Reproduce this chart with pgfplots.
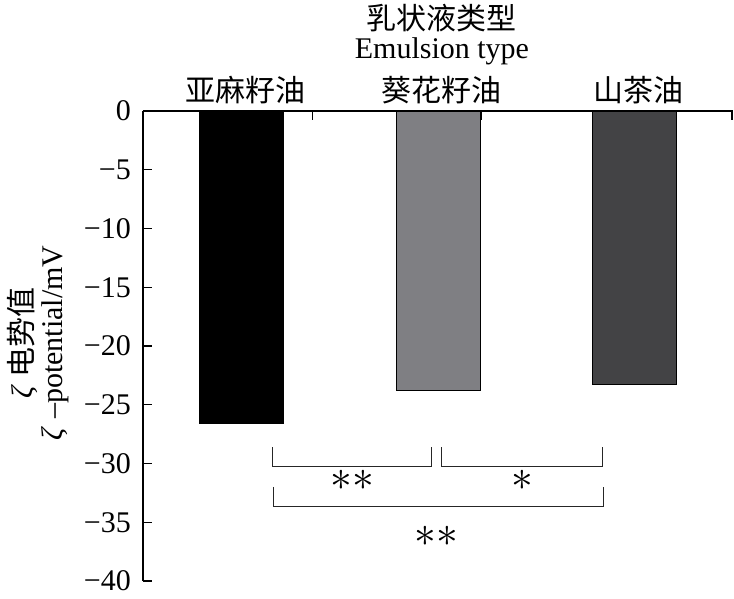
\documentclass[border=0pt]{standalone}
\usepackage{fix-cm}
\usepackage{fontspec}
\setmainfont{Liberation Serif}
\newfontfamily\cjk{Noto Sans CJK SC}
\usepackage{pgfplots}
\pgfplotsset{compat=1.18}
\definecolor{bargray}{HTML}{7F7F83}
\definecolor{bardark}{HTML}{434345}
\begin{document}
\fontsize{30}{36}\selectfont
\begin{tikzpicture}
\begin{axis}[
  at={(0pt,0pt)}, anchor=south west,
  scale only axis,
  width=590pt, height=470pt,
  xmin=-0.5, xmax=2.5,
  ymin=-40, ymax=0,
  axis x line*=top,
  axis y line*=left,
  axis line style={line width=1.2pt, -},
  xtick={0.36,1.22,2.495},
  xticklabels={},
  ytick={-40,-35,-30,-25,-20,-15,-10,-5,0},
  yticklabels={−40,−35,−30,−25,−20,−15,−10,−5,0},
  tick align=inside,
  major tick length=9pt,
  tick style={line width=1.1pt, black},
  yticklabel style={xshift=-2pt},
  clip=false,
]
% bars
\addplot[ybar, bar width=84pt, bar shift=0pt, fill=black, draw=black, line width=0.8pt] coordinates {(0,-26.6)};
\addplot[ybar, bar width=84pt, bar shift=0pt, fill=bargray, draw=black, line width=0.8pt] coordinates {(1,-23.8)};
\addplot[ybar, bar width=84pt, bar shift=0pt, fill=bardark, draw=black, line width=0.8pt] coordinates {(2,-23.25)};
% significance brackets
\addplot[sharp plot, no marks, line width=1pt, black!85] coordinates {(0.157,-28.6) (0.157,-30.24) (0.967,-30.24) (0.967,-28.6)};
\addplot[sharp plot, no marks, line width=1pt, black!85] coordinates {(1.018,-28.6) (1.018,-30.24) (1.836,-30.24) (1.836,-28.6)};
\addplot[sharp plot, no marks, line width=1pt, black!85] coordinates {(0.162,-31.98) (0.162,-33.67) (1.842,-33.67) (1.842,-31.98)};
\node[inner sep=0pt] at (axis cs:0.566,-31.4) {\scalebox{1.45}{$\ast\ast$}};
\node[inner sep=0pt] at (axis cs:1.431,-31.4) {\scalebox{1.45}{$\ast$}};
\node[inner sep=0pt] at (axis cs:0.992,-36.2) {\scalebox{1.45}{$\ast\ast$}};
% category labels
\node[inner sep=0pt] at ([yshift=21pt]axis cs:0.02,0) {\cjk 亚麻籽油};
\node[inner sep=0pt] at ([yshift=21pt]axis cs:1.02,0) {\cjk 葵花籽油};
\node[inner sep=0pt] at ([yshift=21pt]axis cs:2.02,0) {\cjk 山茶油};
% title
\node[inner sep=0pt] at ([yshift=60pt]axis cs:1.02,0) {Emulsion type};
\node[inner sep=0pt] at ([yshift=93pt]axis cs:1.02,0) {\cjk 乳状液类型};
\end{axis}
% y label
\node[rotate=90, inner sep=0pt] at (-121pt,238pt) {\textit{ζ} {\cjk 电势值}};
\node[rotate=90, inner sep=0pt] at (-88pt,238pt) {\textit{ζ} \textendash potential/mV};
\pgfresetboundingbox
\path (-143pt,-17pt) rectangle (591pt,581pt);
\end{tikzpicture}
\end{document}
